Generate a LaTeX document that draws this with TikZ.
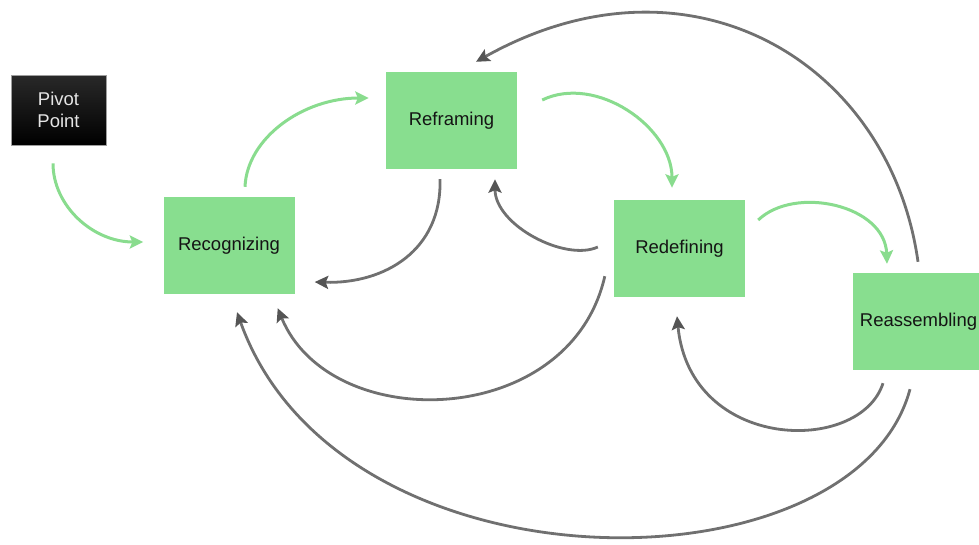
\documentclass[tikz,border=0pt]{standalone}
\usepackage{fontspec}
\setmainfont{Liberation Sans}
\usetikzlibrary{arrows.meta,calc}
\definecolor{boxgreen}{HTML}{88DE8F}
\definecolor{flowgreen}{HTML}{89DC8E}
\definecolor{backgray}{HTML}{707070}
\definecolor{tipgray}{HTML}{555555}
\begin{document}
\begin{tikzpicture}[x=1pt,y=-1pt,
  stage/.style={fill=boxgreen, minimum width=131pt, minimum height=97pt,
    inner sep=0pt, text=black!92, font=\fontsize{18.5}{22}\selectfont},
  pivotbox/.style={top color=black!84, bottom color=black, draw=black!38,
    line width=0.6pt, minimum width=95pt, minimum height=70pt, inner sep=0pt,
    text=white!90!black, align=center, font=\fontsize{18.5}{21.5}\selectfont},
  forward/.style={draw=flowgreen, line width=3pt,
    -{Stealth[length=13.5pt,width=13pt,inset=2.5pt]}},
  backward/.style={draw=backgray, line width=2.8pt,
    -{Stealth[length=13.5pt,width=13pt,inset=2.5pt,color=tipgray]}}]
\useasboundingbox (0,0) rectangle (979,544);
\clip (0,0) rectangle (979,544);

% stages of the cycle
\node[pivotbox] (pivot) at (58.5,110) {Pivot\\Point};
\node[stage] (recog) at (229,245.5) {Recognizing};
\node[stage] (refr)  at (451.5,120.5) {Reframing};
\node[stage] (redef) at (679.5,248.5) {Redefining};
\node[stage] (reas)  at (918.5,321.5) {Reassembling};

% end points of the connectors, placed beside the boxes
\coordinate (a1) at ($(pivot.south)+(-5.5,18)$);
\coordinate (b1) at ($(recog.west)+(-20,-3.5)$);
\coordinate (a2) at ($(recog.north)+(16,-10)$);
\coordinate (b2) at ($(refr.west)+(-17,-22.5)$);
\coordinate (a3) at ($(refr.east)+(25,-20.5)$);
\coordinate (b3) at ($(redef.north)+(-7.5,-12)$);
\coordinate (a4) at ($(redef.east)+(13,-28.5)$);
\coordinate (b4) at ($(reas.north)+(-31.5,-9)$);
\coordinate (a5) at ($(refr.south)+(-11.5,10)$);
\coordinate (b5) at ($(recog.east)+(20,36.5)$);
\coordinate (a6) at ($(redef.west)+(-16,-1.5)$);
\coordinate (b6) at ($(refr.south)+(43.5,10)$);
\coordinate (a7) at ($(redef.south west)+(-9,-21)$);
\coordinate (b7) at ($(recog.south east)+(-17,14)$);
\coordinate (a8) at ($(reas.south)+(-35.5,13)$);
\coordinate (b8) at ($(redef.south)+(-2.5,19)$);
\coordinate (a9) at ($(reas.south)+(-8.5,19)$);
\coordinate (b9) at ($(recog.south)+(8,18)$);
\coordinate (a10) at ($(reas.north)+(-0.5,-11)$);
\coordinate (b10) at ($(refr.north)+(24.5,-10)$);

% forward flow
\draw[forward] (a1) .. controls (53,206) and (93,242) .. (b1);
\draw[forward] (a2) .. controls (247,138) and (303,98) .. (b2);
\draw[forward] (a3) .. controls (596,74) and (672,127) .. (b3);
\draw[forward] (a4) .. controls (795,185) and (885,205) .. (b4);

% feedback loops
\draw[backward] (a5) .. controls (442,250) and (385,284) .. (b5);
\draw[backward] (a6) .. controls (565,262) and (495,225) .. (b6);
\draw[backward] (a7) .. controls (570,430) and (330,436) .. (b7);
\draw[backward] (a8) .. controls (860,455) and (690,452) .. (b8);
\draw[backward] (a9) .. controls (855,595) and (340,600) .. (b9);
\draw[backward] (a10) .. controls (890,62) and (690,-58) .. (b10);
\end{tikzpicture}
\end{document}
